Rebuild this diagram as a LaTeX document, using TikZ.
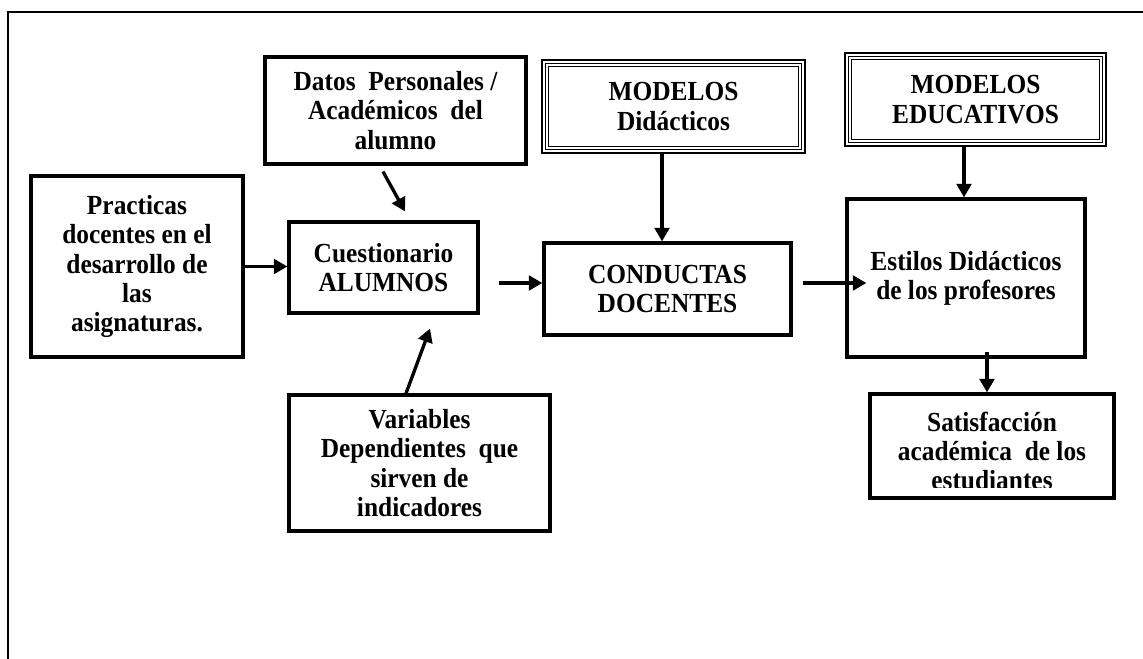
\documentclass[tikz,border=0pt]{standalone}
\usepackage{fontspec}
\setmainfont{Liberation Serif}[FakeStretch=0.92]
\usetikzlibrary{arrows.meta}

\tikzset{
  caja/.style={draw, line width=1.8pt, align=center, inner sep=2pt,
    font=\bfseries\fontsize{15.7}{16.6}\selectfont},
  tam/.style 2 args={minimum width=#1*0.02cm, minimum height=#2*0.02cm},
  modelo/.style={caja, line width=1.6pt},
  flecha/.style={line width=1.9pt, -{Triangle[length=0.27cm,width=0.29cm]}}
}

\begin{document}
\begin{tikzpicture}[x=0.02cm, y=-0.02cm]
\useasboundingbox (0,0) rectangle (1143,659);
\draw[line width=1.2pt] (8,659) -- (8,12) -- (1143,12);

\node[caja, tam={212}{181}] (practicas) at (137,266.5)
  {Practicas\\ docentes en el\\ desarrollo de\\ las\\ asignaturas.};
\node[caja, tam={261}{107}] (datos) at (395.5,110.5)
  {Datos~ Personales /\\ Académicos~ del\\ alumno};
\node[caja, tam={189}{91}] (cuest) at (383.5,267.5) {Cuestionario\\ ALUMNOS};
\node[caja, tam={261}{136}] (variables) at (419.5,463)
  {Variables\\ Dependientes~ que\\ sirven de\\ indicadores};
\node[caja, tam={247}{92}] (conductas) at (667.5,289) {CONDUCTAS\\ DOCENTES};
\node[modelo, tam={263}{93}] (moddid) at (673.5,106.5) {MODELOS\\ Didácticos};
\node[modelo, tam={261}{93}] (modedu) at (975.5,99.5) {MODELOS\\ EDUCATIVOS};
\node[caja, tam={238}{158}] (estilos) at (966,278)
  {Estilos Didácticos\\ de los profesores};
\node[caja, tam={244}{104}] (satis) at (992,446) {};
\begin{scope}
  \clip (870,394) rectangle (1114,487);
  \node[caja, draw=none, anchor=north] (satistxt) at (992,407)
    {Satisfacción\\ académica~ de los\\ estudiantes};
\end{scope}

% bordes triples de los modelos
\foreach \m in {moddid,modedu} {
  \draw[line width=0.7pt] ([shift={(2.7pt,2.7pt)}]\m.south west)
    rectangle ([shift={(-2.7pt,-2.7pt)}]\m.north east);
  \draw[line width=0.7pt] ([shift={(4.5pt,4.5pt)}]\m.south west)
    rectangle ([shift={(-4.5pt,-4.5pt)}]\m.north east);
}

\coordinate (c2) at (499,283);
\draw[flecha] (practicas.east) -- (practicas.east -| cuest.west);
\draw[flecha] ([shift={(-12.5,6)}]datos.south) -- ([shift={(21.5,-9)}]cuest.north);
\draw[flecha] ([xshift=-13.5*0.02cm]variables.north) -- ([shift={(46.5,14)}]cuest.south);
\draw[flecha] (c2) -- (c2 -| conductas.west);
\draw[flecha] ([xshift=-11.5*0.02cm]moddid.south) -- ([xshift=-5.5*0.02cm]conductas.north);
\draw[flecha] ([xshift=-11.5*0.02cm]modedu.south) -- ([xshift=-2*0.02cm]estilos.north);
\draw[flecha] ([xshift=10*0.02cm]conductas.east |- c2) -- ([xshift=21*0.02cm]estilos.west |- c2);
\draw[flecha] ([shift={(21,-7)}]estilos.south) -- ([xshift=-5*0.02cm]satis.north);
\end{tikzpicture}
\end{document}
